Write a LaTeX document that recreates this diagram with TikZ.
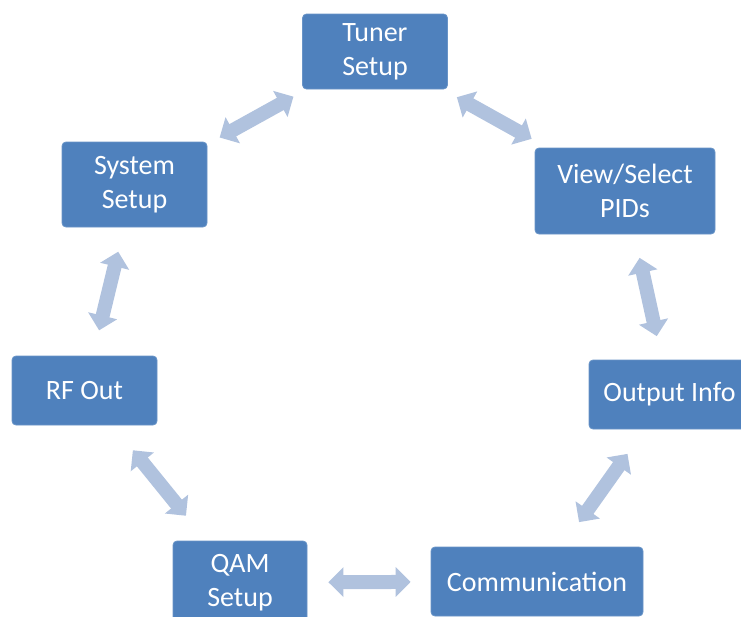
\documentclass[tikz,border=0pt]{standalone}
\usepackage{fontspec}
\setmainfont{Carlito}
\usetikzlibrary{arrows.meta}
\definecolor{boxblue}{HTML}{4F81BD}
\definecolor{linkblue}{HTML}{B0C2DE}

\begin{document}
\begin{tikzpicture}[x=1pt,y=-1pt,
  box/.style={rectangle,rounded corners=4pt,fill=boxblue,draw=boxblue!85!white,line width=0.8pt,
    text=white,align=center,inner sep=0pt,font=\fontsize{28}{34}\selectfont},
  link/.style={draw=linkblue,line width=14pt,
    {Triangle[width=29pt,length=15pt]}-{Triangle[width=29pt,length=15pt]}}]
  \useasboundingbox (0,0) rectangle (741,616);
  \node[box,minimum width=145pt,minimum height=75pt] (tuner) at (375,51.5) {Tuner\\Setup};
  \node[box,minimum width=180pt,minimum height=86pt] (view) at (625,191) {View/Select\\PIDs};
  \node[box,minimum width=161pt,minimum height=69pt] (output) at (669.5,394.5) {Output Info};
  \node[box,minimum width=212pt,minimum height=69pt] (comm) at (537,581.5) {Communication};
  \node[box,minimum width=134pt,minimum height=83pt] (qam) at (240,582.5) {QAM\\Setup};
  \node[box,minimum width=145pt,minimum height=69pt] (rf) at (84.5,390.5) {RF Out};
  \node[box,minimum width=145pt,minimum height=85pt] (sys) at (134.5,184.5) {System\\Setup};
  \draw[link,shorten <=14pt,shorten >=15pt] (sys) -- (tuner);
  \draw[link,shorten <=16pt,shorten >=18pt] (tuner) -- (view);
  \draw[link,shorten <=24pt,shorten >=24pt] (view) -- (output);
  \draw[link,shorten <=30pt,shorten >=30pt] (output) -- (comm);
  \draw[link,shorten <=21pt,shorten >=20pt] (qam) -- (comm);
  \draw[link,shorten <=32pt,shorten >=32pt] (rf) -- (qam);
  \draw[link,shorten <=25pt,shorten >=26pt] (sys) -- (rf);
\end{tikzpicture}
\end{document}
